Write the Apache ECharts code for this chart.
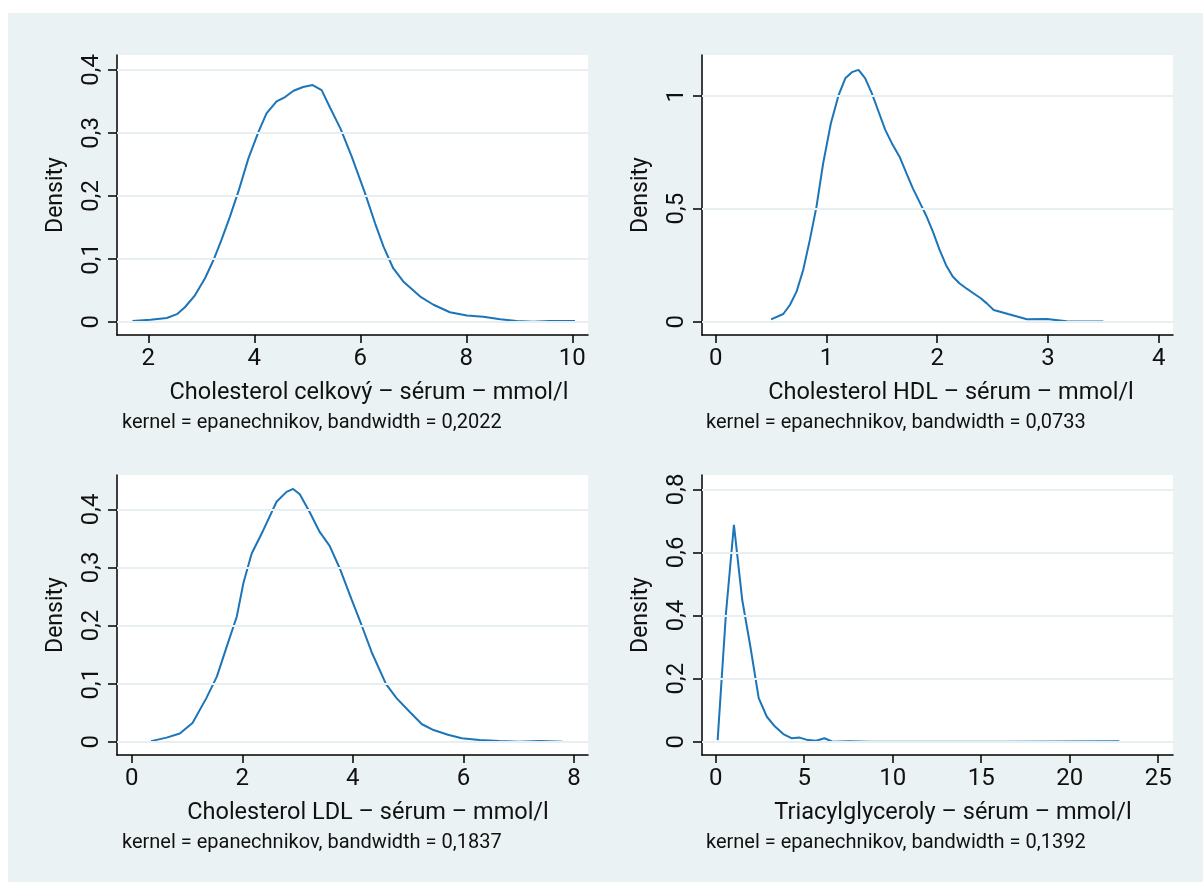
<!DOCTYPE html>
<html>
<head>
<meta charset="utf-8">
<title>Kernel density – lipidy</title>
<script src="https://cdn.jsdelivr.net/npm/echarts@6/dist/echarts.min.js"></script>
<style>
  html, body { margin: 0; padding: 0; background: #ffffff; }
  #chart { width: 1203px; height: 882px; }
</style>
</head>
<body>
<div id="chart"></div>
<script>
// Kernel density estimates (x in mmol/l, y = density)
const celkovyDensity = [
  [1.70, 0.001], [2.04, 0.003], [2.35, 0.006], [2.54, 0.012], [2.69, 0.023], [2.88, 0.042],
  [3.07, 0.069], [3.23, 0.098], [3.38, 0.130], [3.54, 0.167], [3.70, 0.207], [3.89, 0.260],
  [4.08, 0.302], [4.23, 0.331], [4.42, 0.350], [4.58, 0.357], [4.74, 0.367], [4.92, 0.373],
  [5.10, 0.376], [5.27, 0.368], [5.43, 0.340], [5.63, 0.306], [5.84, 0.262], [6.09, 0.204],
  [6.28, 0.156], [6.44, 0.119], [6.62, 0.085], [6.81, 0.064], [7.13, 0.040], [7.38, 0.027],
  [7.69, 0.015], [8.01, 0.010], [8.32, 0.008], [8.64, 0.004], [8.95, 0.001], [9.26, 0.000],
  [9.58, 0.001], [10.05, 0.001]
];
const hdlDensity = [
  [0.50, 0.010], [0.61, 0.034], [0.67, 0.074], [0.73, 0.133], [0.79, 0.229], [0.85, 0.362],
  [0.91, 0.509], [0.97, 0.700], [1.04, 0.878], [1.11, 1.003], [1.17, 1.077], [1.23, 1.104],
  [1.29, 1.114], [1.35, 1.077], [1.41, 1.010], [1.47, 0.930], [1.53, 0.850], [1.59, 0.790],
  [1.66, 0.730], [1.72, 0.660], [1.78, 0.590], [1.84, 0.530], [1.90, 0.470], [1.96, 0.400],
  [2.02, 0.320], [2.08, 0.250], [2.14, 0.200], [2.20, 0.170], [2.27, 0.145], [2.33, 0.125],
  [2.39, 0.105], [2.45, 0.080], [2.51, 0.052], [2.64, 0.034], [2.81, 0.011], [2.99, 0.012],
  [3.17, 0.002], [3.50, 0.001]
];
const ldlDensity = [
  [0.35, 0.001], [0.63, 0.007], [0.87, 0.014], [1.10, 0.032], [1.35, 0.075], [1.54, 0.112],
  [1.72, 0.164], [1.90, 0.215], [2.02, 0.273], [2.17, 0.324], [2.38, 0.364], [2.62, 0.413],
  [2.80, 0.430], [2.92, 0.435], [3.04, 0.426], [3.22, 0.395], [3.40, 0.361], [3.58, 0.337],
  [3.76, 0.299], [3.98, 0.244], [4.16, 0.200], [4.34, 0.154], [4.60, 0.099], [4.79, 0.075],
  [5.03, 0.051], [5.25, 0.030], [5.46, 0.020], [5.72, 0.012], [5.97, 0.006], [6.29, 0.003],
  [6.65, 0.001], [7.00, 0.000], [7.38, 0.001], [7.79, 0.000]
];
const tgDensity = [
  [0.11, 0.005], [0.58, 0.407], [1.03, 0.687], [1.50, 0.449], [1.96, 0.301], [2.43, 0.138],
  [2.89, 0.079], [3.35, 0.048], [3.82, 0.024], [4.28, 0.011], [4.75, 0.013], [5.21, 0.005],
  [5.68, 0.003], [6.14, 0.011], [6.60, 0.000], [7.53, 0.001], [8.70, 0.000], [11.50, 0.000],
  [16.50, 0.000], [22.80, 0.001]
];

// Tick values per panel
const xTicks1 = [2, 4, 6, 8, 10];
const yTicks1 = [0, 0.1, 0.2, 0.3, 0.4];
const xTicks2 = [0, 1, 2, 3, 4];
const yTicks2 = [0, 0.5, 1];
const xTicks3 = [0, 2, 4, 6, 8];
const yTicks3 = [0, 0.1, 0.2, 0.3, 0.4];
const xTicks4 = [0, 5, 10, 15, 20, 25];
const yTicks4 = [0, 0.2, 0.4, 0.6, 0.8];

// Texts
const xTitles = [
  'Cholesterol celkový – sérum – mmol/l',
  'Cholesterol HDL – sérum – mmol/l',
  'Cholesterol LDL – sérum – mmol/l',
  'Triacylglyceroly – sérum – mmol/l'
];
const notes = [
  'kernel = epanechnikov, bandwidth = 0,2022',
  'kernel = epanechnikov, bandwidth = 0,0733',
  'kernel = epanechnikov, bandwidth = 0,1837',
  'kernel = epanechnikov, bandwidth = 0,1392'
];
const yTitle = 'Density';

const FONT = 'Roboto, "Noto Sans", sans-serif';
const LINE_COLOR = '#1b75b8';
const GRID_COLOR = '#e7eff1';
const BG = '#eaf2f3';

// Panel layout: grid box and axis extents
const panels = [
  { grid: { left: 117, top: 55, width: 471, height: 280 }, x: [1.409, 10.296], y: [-0.0211, 0.4238],
    xt: xTicks1, yt: yTicks1, data: celkovyDensity, titleX: 369, noteX: 122 },
  { grid: { left: 702, top: 55, width: 471, height: 280 }, x: [-0.1237, 4.129], y: [-0.0588, 1.180],
    xt: xTicks2, yt: yTicks2, data: hdlDensity, titleX: 951, noteX: 706 },
  { grid: { left: 117, top: 475, width: 471, height: 280 }, x: [-0.266, 8.253], y: [-0.0229, 0.459],
    xt: xTicks3, yt: yTicks3, data: ldlDensity, titleX: 368, noteX: 122 },
  { grid: { left: 702, top: 475, width: 471, height: 280 }, x: [-0.774, 25.836], y: [-0.0422, 0.8453],
    xt: xTicks4, yt: yTicks4, data: tgDensity, titleX: 953, noteX: 706 }
];

const fmt = v => String(v).replace('.', ',');

const grids = [], xAxes = [], yAxes = [], series = [], graphics = [];

graphics.push({
  type: 'rect', z: -10, silent: true,
  shape: { x: 8, y: 13, width: 1195, height: 869 },
  style: { fill: BG }
});

panels.forEach((p, i) => {
  grids.push(Object.assign({
    show: true, backgroundColor: '#ffffff', borderWidth: 0, containLabel: false
  }, p.grid));

  xAxes.push({
    type: 'value', gridIndex: i, min: p.x[0], max: p.x[1],
    axisLine: { show: true, onZero: false, lineStyle: { color: '#000', width: 1.5 } },
    axisTick: { show: true, length: 8, customValues: p.xt, lineStyle: { color: '#000', width: 1.5 } },
    axisLabel: { customValues: p.xt, formatter: fmt, color: '#111', fontFamily: FONT, fontSize: 24, margin: 12 },
    splitLine: { show: false }
  });

  yAxes.push({
    type: 'value', gridIndex: i, min: p.y[0], max: p.y[1],
    name: yTitle, nameLocation: 'middle', nameGap: 49,
    nameTextStyle: { color: '#111', fontFamily: FONT, fontSize: 23 },
    axisLine: { show: true, onZero: false, lineStyle: { color: '#000', width: 1.5 } },
    axisTick: { show: true, length: 9, customValues: p.yt, lineStyle: { color: '#000', width: 1.5 } },
    axisLabel: { customValues: p.yt, formatter: fmt, rotate: 90, color: '#111', fontFamily: FONT, fontSize: 24, margin: 13 },
    splitLine: { show: false }
  });

  // horizontal reference lines at the y ticks
  series.push({
    type: 'line', xAxisIndex: i, yAxisIndex: i, data: [], silent: true, z: 1,
    markLine: {
      silent: true, symbol: ['none', 'none'], label: { show: false }, animation: false,
      lineStyle: { color: GRID_COLOR, width: 2, type: 'solid' },
      data: p.yt.map(v => ({ yAxis: v }))
    }
  });

  series.push({
    type: 'line', xAxisIndex: i, yAxisIndex: i, data: p.data, z: 3,
    showSymbol: false, smooth: false, clip: true,
    lineStyle: { color: LINE_COLOR, width: 2 }
  });

  const base = p.grid.top + p.grid.height;
  graphics.push({
    type: 'text', x: p.titleX, y: base + 58, silent: true,
    style: { text: xTitles[i], fill: '#111', font: '23.5px ' + FONT, textAlign: 'center', textVerticalAlign: 'middle' }
  });
  graphics.push({
    type: 'text', x: p.noteX, y: base + 88, silent: true,
    style: { text: notes[i], fill: '#111', font: '20px ' + FONT, textAlign: 'left', textVerticalAlign: 'middle' }
  });
});

const chart = echarts.init(document.getElementById('chart'), null, { renderer: 'canvas' });
chart.setOption({
  backgroundColor: '#ffffff',
  animation: false,
  grid: grids,
  xAxis: xAxes,
  yAxis: yAxes,
  series: series,
  graphic: graphics
});
</script>
</body>
</html>
